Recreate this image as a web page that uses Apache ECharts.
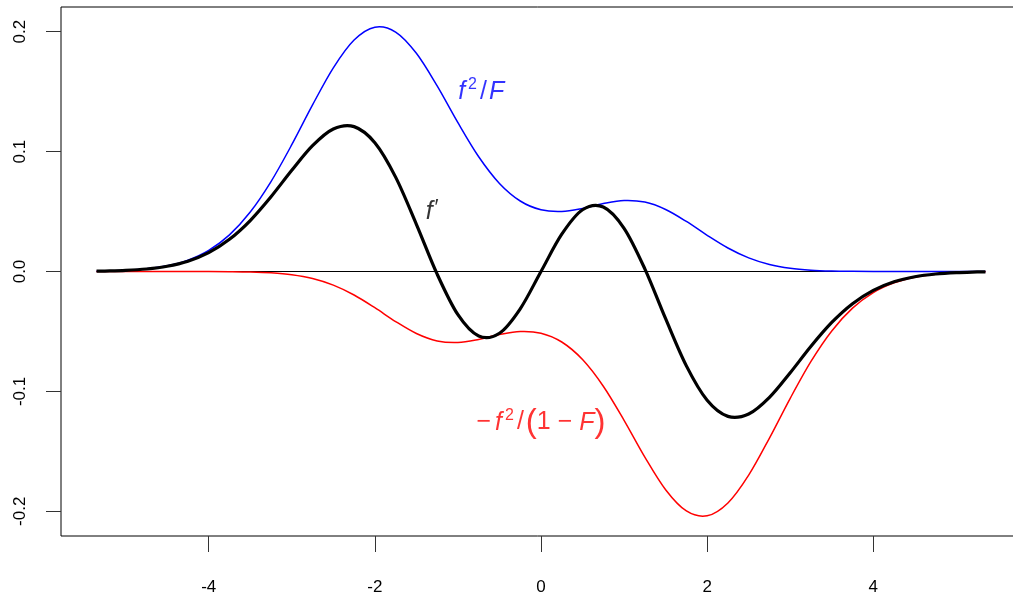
<!DOCTYPE html>
<html>
<head>
<meta charset="utf-8">
<script src="https://cdn.jsdelivr.net/npm/echarts@6/dist/echarts.min.js"></script>
<style>
html,body{margin:0;padding:0;background:#fff;}
#chart{width:1013px;height:601px;}
</style>
</head>
<body>
<div id="chart"></div>
<script>
// ---- data ----
const xValues = [-5.35,-5.25,-5.0,-4.75,-4.5,-4.25,-4.0,-3.75,-3.5,-3.25,-3.0,-2.75,-2.5,-2.25,-2.0,-1.75,-1.5,-1.25,-1.0,-0.75,-0.5,-0.25,0,
  0.25,0.5,0.75,1.0,1.25,1.5,1.75,2.0,2.25,2.5,2.75,3.0,3.25,3.5,3.75,4.0,4.25,4.5,4.75,5.0,5.25,5.35];

// f^2 / F  (blue)
const blueValues = [0.00028,0.00041,0.0010,0.00225,0.00478,0.0095,0.01764,0.03057,0.04957,0.07499,0.10575,0.13893,0.16987,0.19306,0.20378,0.19974,0.18199,0.15477,0.12408,0.09567,0.07342,0.0588,0.05144,
  0.0500,0.05257,0.05662,0.05923,0.05790,0.05172,0.04172,0.03022,0.01959,0.01134,0.00585,0.00268,0.00109,0.00039,0.00013,0.00004,0.00001,0,0,0,0,0];

// -f^2 / (1-F)  (red)
const redValues = [0,0,0,0,0,-0.00001,-0.00004,-0.00013,-0.00039,-0.00109,-0.00268,-0.00585,-0.01134,-0.01959,-0.03022,-0.04172,-0.05172,-0.05790,-0.05923,-0.05662,-0.05257,-0.0500,-0.05144,
  -0.0588,-0.07342,-0.09567,-0.12408,-0.15477,-0.18199,-0.19974,-0.20378,-0.19306,-0.16987,-0.13893,-0.10575,-0.07499,-0.04957,-0.03057,-0.01764,-0.0095,-0.00478,-0.00225,-0.0010,-0.00041,-0.00028];

// f'  (black, thick)
const blackValues = [0.00027,0.00039,0.00093,0.00209,0.0044,0.00863,0.01578,0.02687,0.04252,0.06236,0.08443,0.10499,0.11888,0.12084,0.10741,0.07872,0.03938,-0.00219,-0.03603,-0.05379,-0.05148,-0.03108,0,
  0.03108,0.05148,0.05379,0.03603,0.00219,-0.03938,-0.07872,-0.10741,-0.12084,-0.11888,-0.10499,-0.08443,-0.06236,-0.04252,-0.02687,-0.01578,-0.00863,-0.0044,-0.00209,-0.00093,-0.00039,-0.00027];

// zero reference line over the data range
const zeroValues = [0, 0];
const zeroX = [-5.35, 5.35];

const xTicks = [-4, -2, 0, 2, 4];
const yTicks = [-0.2, -0.1, 0.0, 0.1, 0.2];
const yTickLabels = ['-0.2', '-0.1', '0.0', '0.1', '0.2'];

// ---- chart ----
const FONT = '"Liberation Sans", Arial, Helvetica, sans-serif';
const pairsOf = (xs, ys) => xs.map((x, i) => [x, ys[i]]);

const chart = echarts.init(document.getElementById('chart'), null, {renderer: 'canvas'});

// smooth curve through the data points (cubic Hermite in x), positioned with the axes' own scales
function curveSeries(xs, ys, color, width, z) {
  return {
    type: 'custom',
    coordinateSystem: 'cartesian2d',
    data: pairsOf(xs, ys),
    encode: {x: 0, y: 1},
    silent: true,
    clip: false,
    z: z,
    renderItem: function (params, api) {
      if (params.dataIndex !== 0) return null;
      const pts = xs.map((x, i) => api.coord([x, ys[i]]));
      const n = pts.length;
      const slope = (i) => {
        const a = pts[Math.max(i - 1, 0)], b = pts[Math.min(i + 1, n - 1)];
        return (b[1] - a[1]) / (b[0] - a[0]);
      };
      let d = 'M' + pts[0][0].toFixed(2) + ' ' + pts[0][1].toFixed(2);
      for (let i = 0; i < n - 1; i++) {
        const p1 = pts[i], p2 = pts[i + 1];
        const h = (p2[0] - p1[0]) / 3;
        const m1 = slope(i), m2 = slope(i + 1);
        d += ' C' + (p1[0] + h).toFixed(2) + ' ' + (p1[1] + m1 * h).toFixed(2) + ' ' +
             (p2[0] - h).toFixed(2) + ' ' + (p2[1] - m2 * h).toFixed(2) + ' ' +
             p2[0].toFixed(2) + ' ' + p2[1].toFixed(2);
      }
      return {
        type: 'path',
        shape: {pathData: d},
        style: {fill: null, stroke: color, lineWidth: width, lineJoin: 'round', lineCap: 'butt'}
      };
    }
  };
}

function richFor(color) {
  return {
    i: {fontFamily: FONT, fontStyle: 'italic', fontSize: 25, color: color, lineHeight: 30},
    fi: {fontFamily: FONT, fontStyle: 'italic', fontSize: 25, color: color, lineHeight: 30, padding: [0, 0, 0, 4]},
    n: {fontFamily: FONT, fontSize: 25, color: color, lineHeight: 30},
    sl: {fontFamily: FONT, fontSize: 25, color: color, lineHeight: 30, padding: [0, 2, 0, 3]},
    s: {fontFamily: FONT, fontSize: 16, color: color, lineHeight: 13, verticalAlign: 'top', padding: [0, 0, 0, 3]},
    pr: {fontFamily: FONT, fontSize: 22, color: color, lineHeight: 18, verticalAlign: 'top', padding: [0, 0, 0, 2]},
    p: {fontFamily: FONT, fontSize: 33, color: color, lineHeight: 30}
  };
}

function textSeries(coord, formatter, color) {
  return {
    type: 'scatter',
    data: [coord],
    symbolSize: 0,
    silent: true,
    z: 10,
    label: {
      show: true,
      position: 'inside',
      formatter: formatter,
      rich: richFor(color)
    }
  };
}

const option = {
  animation: false,
  backgroundColor: '#fff',
  grid: {
    left: 61, top: 7, width: 960, height: 529,
    outerBoundsMode: 'none',
    containLabel: false,
    show: true, borderColor: '#000', borderWidth: 1, backgroundColor: 'transparent'
  },
  xAxis: {
    type: 'value',
    min: -5.778, max: 5.778,
    axisLine: {show: false, onZero: false},
    splitLine: {show: false},
    axisTick: {show: true, length: 16, inside: false, customValues: xTicks, lineStyle: {color: '#333', width: 1}},
    axisLabel: {
      show: true, customValues: xTicks, margin: 43,
      fontFamily: FONT, fontSize: 17, color: '#000',
      formatter: (v) => String(v)
    }
  },
  yAxis: {
    type: 'value',
    min: -0.2206, max: 0.2206,
    axisLine: {show: false, onZero: false},
    splitLine: {show: false},
    axisTick: {show: true, length: 15, inside: false, customValues: yTicks, lineStyle: {color: '#333', width: 1}},
    axisLabel: {
      show: true, customValues: yTicks, margin: 32, rotate: 90,
      fontFamily: FONT, fontSize: 17, color: '#000',
      formatter: (v) => {
        const idx = yTicks.findIndex(t => Math.abs(t - v) < 1e-9);
        return idx >= 0 ? yTickLabels[idx] : '';
      }
    }
  },
  series: [
    curveSeries(zeroX, zeroValues, '#000', 1, 1),
    curveSeries(xValues, blueValues, '#0000ff', 1.5, 2),
    curveSeries(xValues, redValues, '#ff0000', 1.5, 3),
    curveSeries(xValues, blackValues, '#000', 3.2, 4),
    textSeries([-0.72, 0.150], '{i|f}{s|2}{sl|/}{i|F}', '#0000ff'),
    textSeries([-1.31, 0.050], '{i|f}{pr|′}', '#000'),
    textSeries([0.0, -0.126], '{n|−}{fi|f}{s|2}{sl|/}{p|(}{n|1 − }{i|F}{p|)}', '#ff0000')
  ]
};

chart.setOption(option);
</script>
</body>
</html>
